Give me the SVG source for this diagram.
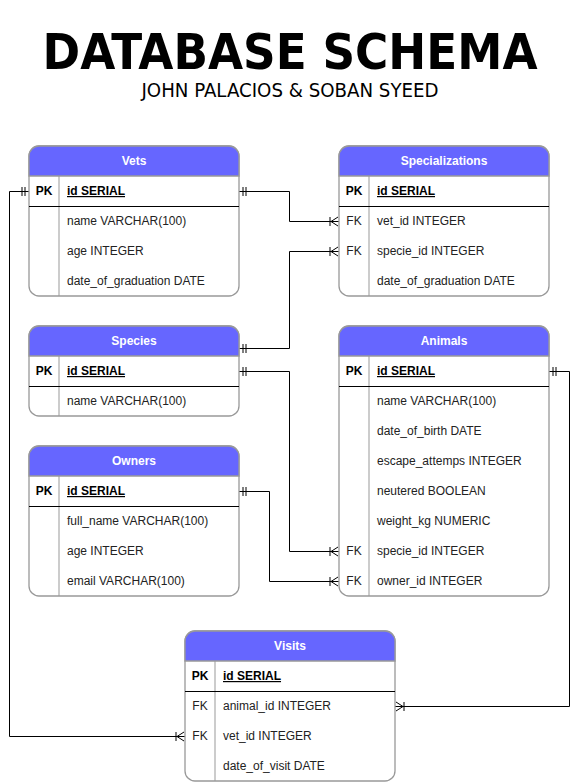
<svg xmlns="http://www.w3.org/2000/svg" width="579" height="782" viewBox="0 0 579 782">
<style>
  .box { fill: #ffffff; stroke: #999999; stroke-width: 1.3; }
  .hdr { fill: #6666ff; stroke: #999999; stroke-width: 1.3; }
  .htxt { font-family: "Liberation Sans", Arial, sans-serif; font-size: 12px; font-weight: bold; fill: #ffffff; text-anchor: middle; }
  .txt { font-family: "Liberation Sans", Arial, sans-serif; font-size: 12px; fill: #222222; }
  .key { font-family: "Liberation Sans", Arial, sans-serif; font-size: 12px; fill: #222222; text-anchor: middle; }
  .pk { font-family: "Liberation Sans", Arial, sans-serif; font-size: 12px; font-weight: bold; fill: #000000; }
  .pkk { font-family: "Liberation Sans", Arial, sans-serif; font-size: 12px; font-weight: bold; fill: #000000; text-anchor: middle; }
  .sep { stroke: #000000; stroke-width: 1; }
  .div { stroke: #999999; stroke-width: 1; }
  .conn { fill: none; stroke: #000000; stroke-width: 1; marker-start: url(#one); marker-end: url(#many); }
  .title { font-family: "DejaVu Sans Condensed", "DejaVu Sans", sans-serif; font-weight: bold; font-size: 50px; fill: #000000; text-anchor: middle; }
  .sub { font-family: "DejaVu Sans Condensed", "DejaVu Sans", sans-serif; font-size: 20px; fill: #000000; text-anchor: middle; }
</style>
<defs>
  <marker id="one" markerUnits="userSpaceOnUse" orient="auto" refX="0" refY="0" markerWidth="20" markerHeight="20" viewBox="-10 -10 20 20" overflow="visible">
    <path d="M4,-4.5 V4.5 M7,-4.5 V4.5" stroke="#000000" stroke-width="1" fill="none"/>
  </marker>
  <marker id="many" markerUnits="userSpaceOnUse" orient="auto" refX="0" refY="0" markerWidth="20" markerHeight="20" viewBox="-10 -10 20 20" overflow="visible">
    <path d="M-1,-4.5 L-8,0 L-1,4.5 M-9,-4.5 V4.5" stroke="#000000" stroke-width="1" fill="none"/>
  </marker>
</defs>
<rect x="0" y="0" width="579" height="782" fill="#ffffff"/>

<g id="title">
  <text class="title" x="290" y="69" textLength="495" lengthAdjust="spacingAndGlyphs">DATABASE SCHEMA</text>
  <text class="sub" x="290" y="97" textLength="297" lengthAdjust="spacingAndGlyphs">JOHN PALACIOS &amp; SOBAN SYEED</text>
</g>

<g id="connectors">
  <path class="conn" d="M239,191.5 H289.5 V221.5 H339"/>
  <path class="conn" d="M239,348.5 H289.5 V251.5 H339"/>
  <path class="conn" d="M239,371.5 H289.5 V551.5 H339"/>
  <path class="conn" d="M239,491.5 H269.5 V581.5 H339"/>
  <path class="conn" d="M29,191.5 H9.5 V736.5 H185"/>
  <path class="conn" d="M549,371.5 H569.5 V706.5 H395"/>
</g>

<g id="vets" transform="translate(29,146)">
  <rect class="box" x="0" y="0" width="210" height="150" rx="10"/>
  <path class="hdr" d="M0,30 V10 A10,10 0 0 1 10,0 H200 A10,10 0 0 1 210,10 V30 Z"/>
  <text class="htxt" x="105" y="19">Vets</text>
  <line class="div" x1="30" y1="30" x2="30" y2="150"/>
  <line class="sep" x1="0" y1="60.5" x2="210" y2="60.5"/>
  <text class="pkk" x="15" y="49">PK</text>
  <text class="pk" x="38" y="49" text-decoration="underline">id SERIAL</text>
  <text class="txt" x="38" y="79">name VARCHAR(100)</text>
  <text class="txt" x="38" y="109">age INTEGER</text>
  <text class="txt" x="38" y="139">date_of_graduation DATE</text>
</g>

<g id="specializations" transform="translate(339,146)">
  <rect class="box" x="0" y="0" width="210" height="150" rx="10"/>
  <path class="hdr" d="M0,30 V10 A10,10 0 0 1 10,0 H200 A10,10 0 0 1 210,10 V30 Z"/>
  <text class="htxt" x="105" y="19">Specializations</text>
  <line class="div" x1="30" y1="30" x2="30" y2="150"/>
  <line class="sep" x1="0" y1="60.5" x2="210" y2="60.5"/>
  <text class="pkk" x="15" y="49">PK</text>
  <text class="pk" x="38" y="49" text-decoration="underline">id SERIAL</text>
  <text class="key" x="15" y="79">FK</text>
  <text class="txt" x="38" y="79">vet_id INTEGER</text>
  <text class="key" x="15" y="109">FK</text>
  <text class="txt" x="38" y="109">specie_id INTEGER</text>
  <text class="txt" x="38" y="139">date_of_graduation DATE</text>
</g>

<g id="species" transform="translate(29,326)">
  <rect class="box" x="0" y="0" width="210" height="90" rx="10"/>
  <path class="hdr" d="M0,30 V10 A10,10 0 0 1 10,0 H200 A10,10 0 0 1 210,10 V30 Z"/>
  <text class="htxt" x="105" y="19">Species</text>
  <line class="div" x1="30" y1="30" x2="30" y2="90"/>
  <line class="sep" x1="0" y1="60.5" x2="210" y2="60.5"/>
  <text class="pkk" x="15" y="49">PK</text>
  <text class="pk" x="38" y="49" text-decoration="underline">id SERIAL</text>
  <text class="txt" x="38" y="79">name VARCHAR(100)</text>
</g>

<g id="animals" transform="translate(339,326)">
  <rect class="box" x="0" y="0" width="210" height="270" rx="10"/>
  <path class="hdr" d="M0,30 V10 A10,10 0 0 1 10,0 H200 A10,10 0 0 1 210,10 V30 Z"/>
  <text class="htxt" x="105" y="19">Animals</text>
  <line class="div" x1="30" y1="30" x2="30" y2="270"/>
  <line class="sep" x1="0" y1="60.5" x2="210" y2="60.5"/>
  <text class="pkk" x="15" y="49">PK</text>
  <text class="pk" x="38" y="49" text-decoration="underline">id SERIAL</text>
  <text class="txt" x="38" y="79">name VARCHAR(100)</text>
  <text class="txt" x="38" y="109">date_of_birth DATE</text>
  <text class="txt" x="38" y="139">escape_attemps INTEGER</text>
  <text class="txt" x="38" y="169">neutered BOOLEAN</text>
  <text class="txt" x="38" y="199">weight_kg NUMERIC</text>
  <text class="key" x="15" y="229">FK</text>
  <text class="txt" x="38" y="229">specie_id INTEGER</text>
  <text class="key" x="15" y="259">FK</text>
  <text class="txt" x="38" y="259">owner_id INTEGER</text>
</g>

<g id="owners" transform="translate(29,446)">
  <rect class="box" x="0" y="0" width="210" height="150" rx="10"/>
  <path class="hdr" d="M0,30 V10 A10,10 0 0 1 10,0 H200 A10,10 0 0 1 210,10 V30 Z"/>
  <text class="htxt" x="105" y="19">Owners</text>
  <line class="div" x1="30" y1="30" x2="30" y2="150"/>
  <line class="sep" x1="0" y1="60.5" x2="210" y2="60.5"/>
  <text class="pkk" x="15" y="49">PK</text>
  <text class="pk" x="38" y="49" text-decoration="underline">id SERIAL</text>
  <text class="txt" x="38" y="79">full_name VARCHAR(100)</text>
  <text class="txt" x="38" y="109">age INTEGER</text>
  <text class="txt" x="38" y="139">email VARCHAR(100)</text>
</g>

<g id="visits" transform="translate(185,631)">
  <rect class="box" x="0" y="0" width="210" height="150" rx="10"/>
  <path class="hdr" d="M0,30 V10 A10,10 0 0 1 10,0 H200 A10,10 0 0 1 210,10 V30 Z"/>
  <text class="htxt" x="105" y="19">Visits</text>
  <line class="div" x1="30" y1="30" x2="30" y2="150"/>
  <line class="sep" x1="0" y1="60.5" x2="210" y2="60.5"/>
  <text class="pkk" x="15" y="49">PK</text>
  <text class="pk" x="38" y="49" text-decoration="underline">id SERIAL</text>
  <text class="key" x="15" y="79">FK</text>
  <text class="txt" x="38" y="79">animal_id INTEGER</text>
  <text class="key" x="15" y="109">FK</text>
  <text class="txt" x="38" y="109">vet_id INTEGER</text>
  <text class="txt" x="38" y="139">date_of_visit DATE</text>
</g>
</svg>
